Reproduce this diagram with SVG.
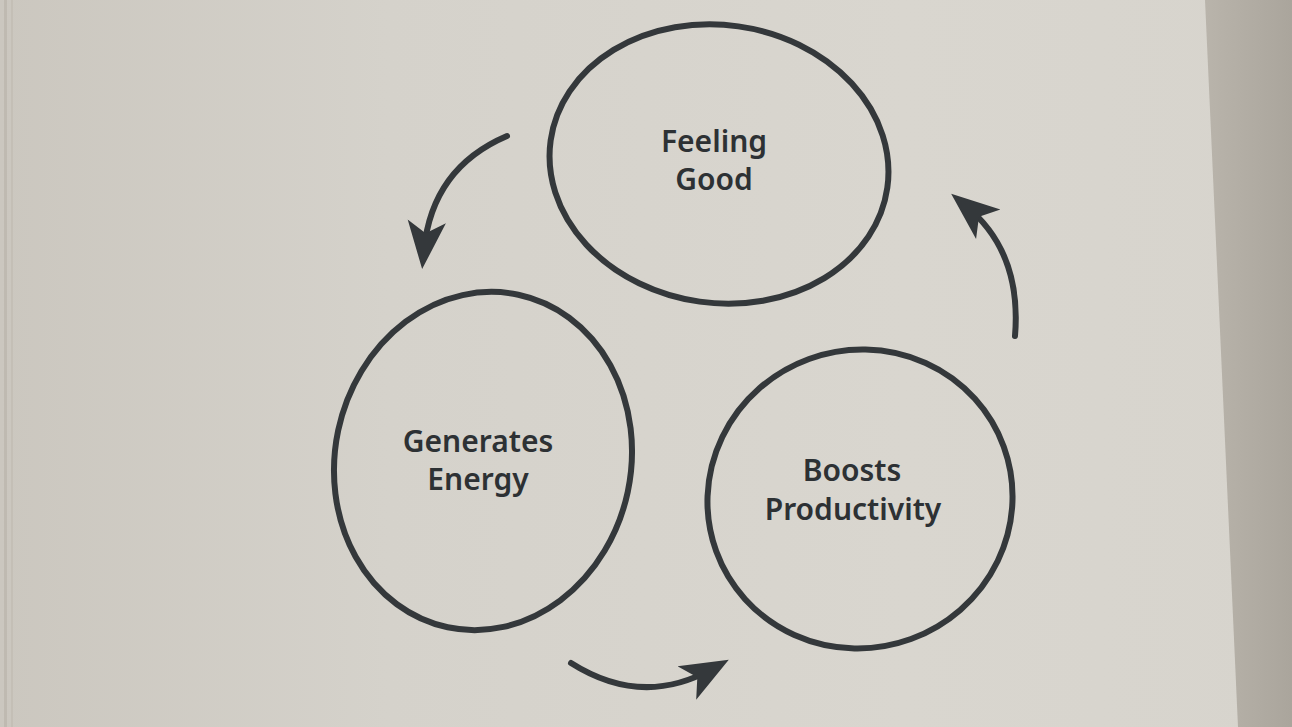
<svg xmlns="http://www.w3.org/2000/svg" width="1292" height="727" viewBox="0 0 1292 727">
<defs>
<linearGradient id="paper" x1="0" y1="0" x2="1" y2="0">
<stop offset="0" stop-color="#cbc7bf"/>
<stop offset="0.3" stop-color="#d5d2cb"/>
<stop offset="0.7" stop-color="#d9d6cf"/>
<stop offset="1" stop-color="#d7d4cd"/>
</linearGradient>
<linearGradient id="shade" x1="0" y1="0" x2="1" y2="0">
<stop offset="0" stop-color="#b9b4ab"/>
<stop offset="1" stop-color="#aaa59c"/>
</linearGradient>
<marker id="head" viewBox="0 0 20 20" refX="12" refY="10" markerWidth="8" markerHeight="8" markerUnits="strokeWidth" orient="auto">
<path d="M0,2 L20,10 L0,18 L5,10 Z" fill="#34383b"/>
</marker>
<style>
.ring{fill:none;stroke:#34383b;stroke-width:6}
.lbl{font-family:"Noto Sans","Liberation Sans",sans-serif;font-weight:600;font-size:30px;fill:#2d3134;text-anchor:middle}
.arrow{fill:none;stroke:#34383b;stroke-width:6;stroke-linecap:round}
</style>
</defs>
<rect width="1292" height="727" fill="url(#paper)"/>
<path d="M1205,0 L1292,0 L1292,727 L1238,727 Z" fill="url(#shade)"/>
<rect x="4" y="0" width="3" height="727" fill="#bfbab1"/>
<rect x="11" y="0" width="2" height="727" fill="#c4bfb6"/>

<g id="feeling-good">
<ellipse class="ring" cx="719" cy="164" rx="170" ry="139" transform="rotate(8 719 164)"/>
<text class="lbl" x="714" y="152">Feeling</text>
<text class="lbl" x="714" y="190">Good</text>
</g>
<g id="generates-energy">
<ellipse class="ring" cx="483" cy="461" rx="148" ry="170" transform="rotate(12 483 461)"/>
<text class="lbl" x="478" y="452">Generates</text>
<text class="lbl" x="478" y="490">Energy</text>
</g>
<g id="boosts-productivity">
<ellipse class="ring" cx="860" cy="499" rx="153" ry="149" transform="rotate(-20 860 499)"/>
<text class="lbl" x="852" y="481">Boosts</text>
<text class="lbl" x="853" y="520">Productivity</text>
</g>

<g id="connectors">
<path class="arrow" d="M507,136 Q432,168 424,250" marker-end="url(#head)"/>
<path class="arrow" d="M1015,336 Q1022,252 966,206" marker-end="url(#head)"/>
<path class="arrow" d="M571,663 Q642,708 712,669" marker-end="url(#head)"/>
</g>
</svg>
